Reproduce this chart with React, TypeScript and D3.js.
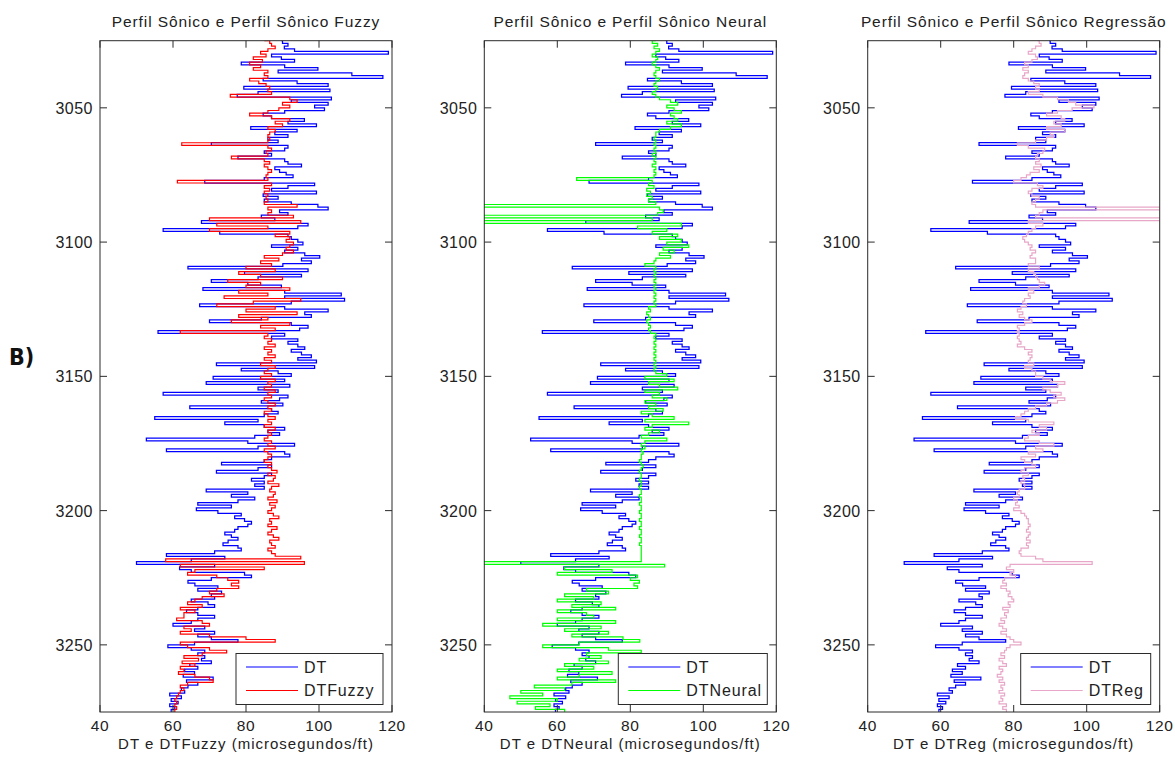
import React from "react";
import * as d3 from "d3";

const DEPTH_START = 3025;
const X_TICKS = [40, 60, 80, 100, 120];
const Y_TICKS = [3050, 3100, 3150, 3200, 3250];
const X_DOMAIN = [40, 120];
const Y_DOMAIN = [3025, 3275];

const DT = [
  89.7, 90, 91.5, 90.5, 93.3, 119, 87, 89.7, 93.3, 78.7,
  90.6, 99.7, 88.8, 109, 117.5, 84.7, 94, 102.5, 79.4, 103,
  83.3, 77.6, 103.4, 92.4, 102.5, 98.8, 101.5, 90.6, 84.7, 87,
  96, 91.5, 99.3, 81.3, 94, 87.9, 91.5, 86, 88.8, 70.5,
  91.5, 90.6, 85, 87, 77.8, 90.6, 91.5, 95.2, 87.9, 89.2,
  91, 92.9, 85, 68.7, 98.8, 91.5, 87, 99.3, 84.7, 88.8,
  85, 92.4, 99.7, 102.5, 89.2, 91.5, 84.2, 87.9, 67.8, 97,
  94.2, 57.3, 72.8, 91.5, 92.4, 94.2, 95.6, 87, 94.2, 90.6,
  96.1, 100.2, 95.2, 97.9, 90.1, 64.1, 97, 79.6, 95.2, 83.3,
  70.5, 80.5, 89.7, 68.2, 90.6, 106.1, 90.6, 107, 92.4, 67.3,
  90.6, 102.5, 96.1, 97.9, 84.2, 70, 92.4, 97, 94.7, 55.9,
  90.6, 87, 94.2, 91.5, 94.2, 96.1, 92.4, 95.2, 97.9, 94.2,
  99.3, 71.9, 98.8, 78.7, 88.8, 92.4, 71, 90.6, 69.1, 92,
  83.3, 88.8, 57.3, 91.5, 89.2, 84.2, 90.1, 64.6, 87, 88.8,
  85, 55, 83.3, 74.2, 85, 90.6, 86, 89.2, 82.4, 52.7,
  80.5, 93.3, 83.3, 58.2, 90.6, 92, 87, 85, 73.3, 87,
  83.3, 71.9, 87, 85, 81.5, 85, 82.4, 85, 69.1, 80.5,
  76, 82.4, 77.8, 66.8, 76, 66.4, 72.3, 78.7, 76.9, 79.6,
  81.5, 80.5, 77.8, 76.9, 74.2, 76, 77.8, 75.1, 73.7, 77.8,
  78.7, 71.4, 58.2, 74.2, 65, 50, 71.4, 61.8, 65, 79.6,
  81.5, 70.5, 64.1, 66, 72.3, 66.8, 73.3, 70.5, 71.4, 65,
  69.6, 71.4, 66.8, 63.7, 66.8, 71.4, 66.8, 65, 60, 68.7,
  65.9, 71.4, 66.8, 70.5, 77.8, 65.9, 58.6, 65, 68.7, 66.8,
  68.7, 67.8, 70.5, 64.6, 66.8, 63.2, 65.9, 62.8, 71, 63.7,
  66.8, 64.1, 62.3, 63.2, 59.1, 62.3, 59.5, 61.4, 59.1, 60.5,
  59.5,
];

const DT_FUZZY = [
  85, 86.5, 87, 88, 86, 84, 85.5, 82, 84.5, 81,
  84, 82, 86, 85, 86, 81, 83.5, 85.5, 86.5, 86,
  87, 75.7, 92, 94, 90, 92, 89, 86, 81, 87,
  92, 88, 90, 86, 88, 86.5, 86, 86.5, 86, 62.4,
  86, 87, 85.5, 86, 76, 85, 86.5, 85, 86, 87,
  86, 85.5, 86, 61.2, 87, 85, 86.5, 85, 86, 85.5,
  86, 85, 94, 86, 87, 86, 93, 70, 95, 72,
  86, 70, 92, 88, 92, 91, 93, 92, 91, 93,
  90, 85, 89, 84, 87, 80, 88, 78, 84, 90,
  75, 84, 80, 92, 78, 86, 74, 95, 82, 72,
  88, 80, 94, 78, 86, 76, 92, 84, 88, 62,
  86, 85, 87, 86, 88, 85, 87, 86, 88, 85,
  87, 84, 88, 86, 85, 87, 84, 88, 86, 87,
  85, 88, 86, 87, 85, 86, 88, 86, 87, 85,
  86, 88, 86, 87, 85, 88, 86, 87, 86, 85,
  87, 86, 88, 85, 86, 87, 86, 85, 87, 86,
  87, 88.5, 86, 88, 87.5, 86, 89, 87, 86.5, 88,
  87.5, 86, 88.5, 86.5, 88, 87, 86, 87.5, 89, 86.5,
  87, 86, 88.5, 87, 86, 87.5, 89, 86.5, 87, 88,
  86, 87, 88, 95, 58, 96, 62, 85, 66, 64,
  72, 75, 78, 76, 78, 72, 70, 74, 68, 66,
  64, 68, 62, 66, 63, 63, 61, 68, 70, 63,
  65, 62, 70, 80, 88, 62, 64, 70, 74.7, 68,
  63, 67, 62.5, 66, 62, 63, 61.5, 66, 70, 71,
  64, 62, 63, 62, 61.5, 61, 60.5, 61, 60.5, 61,
  60.5,
];

const DT_NEURAL = [
  87, 86, 87.5, 86.5, 88, 87, 86, 87.5, 87, 86,
  87, 88, 87, 86.5, 87, 88, 87, 86.5, 87.5, 87,
  86, 87, 88, 91, 93, 90, 92, 94, 91, 92,
  93, 90, 94, 91, 88, 87, 87, 86.5, 87, 86.5,
  87, 86.5, 87, 86, 87, 86.5, 87, 86, 87, 86.5,
  87, 86.5, 65.3, 86, 85, 86.5, 84.5, 85.5, 84.5, 86,
  85, 87, 30, 88, 89, 87.5, 30, 86, 30, 94,
  82, 90, 86, 93, 88, 94, 90, 96, 89, 92,
  88, 91, 87, 86.5, 84, 87, 86.5, 87, 86.5, 87,
  86.5, 87, 86.5, 87, 86.5, 87, 86.5, 87, 86.5, 87,
  85, 85.5, 84.5, 85, 85.5, 84.5, 85, 85.5, 85, 85.5,
  87, 86.5, 87, 86.5, 87, 86.5, 87, 86.5, 87, 86.5,
  87, 86.5, 87, 86.5, 87, 90, 84, 92, 85, 88,
  93, 84, 88, 86, 90, 84, 87, 85, 89, 83,
  86, 92, 84, 96, 86, 84, 88, 85, 83, 90,
  84, 83, 84, 83, 83.5, 83, 83, 82.5, 83, 83.5,
  83, 82.5, 83, 83, 82.5, 83, 83, 82.5, 83, 83,
  82.5, 83, 83, 82.5, 83, 83, 82.5, 83, 83, 82.5,
  83, 83, 82.5, 83, 83, 82.5, 83, 83, 82.5, 83,
  83, 83, 83, 83, 83, 30, 89.4, 62, 75, 60,
  82, 80, 82.5, 81, 82, 68, 74, 62, 70, 60,
  72, 64, 76, 60, 68, 70, 60, 76, 56, 72,
  62, 74, 64, 78, 82.6, 66, 56, 74, 83, 68,
  72, 66, 74, 62, 70, 60, 75, 66, 60, 76,
  64, 53.7, 62, 50, 56, 47, 60, 49, 58, 54,
  62,
];

const DT_REG = [
  86.5, 87, 87.5, 86, 85, 84, 86, 86.5, 85, 83,
  84, 82.5, 84, 83, 82.5, 84, 85.5, 87, 86, 87,
  84, 88, 92, 95, 97, 102, 96, 92, 89, 93,
  94, 91, 93, 89, 94, 90, 91, 89, 86, 81,
  84, 88.5, 88, 86.5, 86, 87, 86, 87.5, 85.5, 87,
  84.5, 83.5, 82, 80, 86.5, 88, 85, 84, 85, 87,
  86, 85, 86, 125, 88, 87, 86, 125, 84, 88,
  86, 85, 84, 83.5, 82.5, 83, 84, 85, 84.5, 86,
  85, 84.5, 86, 86, 84, 87, 84, 85.5, 86, 86.5,
  87, 88.5, 87, 84, 85.5, 84, 84.5, 83, 82.5, 83.5,
  82, 81, 82.5, 81.5, 83, 85, 83, 81, 81.5, 81,
  81.5, 81, 81.5, 82, 81, 83, 85, 84, 85, 84.5,
  84, 85.5, 83, 85, 86, 86, 88, 90, 94, 92,
  88, 90, 93, 91, 94, 92, 89, 86, 84, 83,
  82, 80.5, 84, 91, 87, 89, 85, 87, 84, 83,
  87, 91, 86, 88, 84, 86, 82, 83, 85, 86,
  83, 82, 84, 82.5, 83, 82, 83, 83, 81.5, 81,
  81.5, 80, 81, 80.5, 81.5, 80, 82, 83, 83.5, 84,
  84, 84.5, 84, 83.5, 84.5, 84, 83.5, 84.5, 83.5, 84,
  82, 81.5, 82, 86, 88, 101.5, 79, 78, 80, 79,
  80.5, 77.5, 77, 78, 76.5, 78, 79, 78.5, 79.5, 80,
  78.5, 79, 77, 78.5, 77.5, 78, 76.5, 77.5, 76, 77,
  78, 76.5, 78, 79, 80, 82, 79, 78, 77.5, 76.5,
  77.5, 76, 77, 78, 76, 77, 76.5, 75.5, 77, 76,
  77.5, 76.5, 77, 76, 77.5, 76.5, 77, 76, 78, 77,
  78,
];

const DEPTHS = DT.map((_, i) => DEPTH_START + i);

const PANELS = [
  { title: "Perfil Sônico e Perfil Sônico Fuzzy", xLabel: "DT e DTFuzzy (microsegundos/ft)", name: "DTFuzzy", values: DT_FUZZY, color: "#ff0000", legendW: 147 },
  { title: "Perfil Sônico e Perfil Sônico Neural", xLabel: "DT e DTNeural (microsegundos/ft)", name: "DTNeural", values: DT_NEURAL, color: "#00ff00", legendW: 149 },
  { title: "Perfil Sônico e Perfil Sônico Regressão", xLabel: "DT e DTReg (microsegundos/ft)", name: "DTReg", values: DT_REG, color: "#e8a6c8", legendW: 130 },
];

const PANEL_LEFTS = [100, 484.3, 867.7];
const PANEL_W = 292;
const TOP = 40.7;
const BOTTOM = 712;
const FONT = "'Liberation Sans', Arial, Helvetica, sans-serif";
const AXIS_COLOR = "#2b2b2b";
const TEXT_COLOR = "#222";

function Panel({ idx }: { idx: number }) {
  const p = PANELS[idx];
  const left = PANEL_LEFTS[idx];
  const right = left + PANEL_W;
  const x = d3.scaleLinear().domain(X_DOMAIN).range([left, right]);
  const y = d3.scaleLinear().domain(Y_DOMAIN).range([TOP, BOTTOM]);
  const line = d3
    .line<number>()
    .x((d) => x(d))
    .y((_, i) => y(DEPTHS[i]))
    .curve(d3.curveStepAfter);
  const clipId = `clip${idx}`;
  const tick = 7;
  const lgRight = left + 283;
  const lgLeft = lgRight - p.legendW;
  const lgTop = 653.5;
  const lgH = 51;
  const txt = { fontFamily: FONT, fill: TEXT_COLOR, fontSize: 15.5, letterSpacing: 0.7 } as const;
  return (
    <g>
      <defs>
        <clipPath id={clipId}>
          <rect x={left} y={TOP} width={PANEL_W} height={BOTTOM - TOP} />
        </clipPath>
      </defs>
      <rect x={left} y={TOP} width={PANEL_W} height={BOTTOM - TOP} fill="#fff" />
      <g clipPath={`url(#${clipId})`}>
        <path d={line(DT) || ""} fill="none" stroke="#0000ff" strokeWidth={1.25} />
        <path d={line(p.values) || ""} fill="none" stroke={p.color} strokeWidth={1.2} />
      </g>
      {X_TICKS.map((t) => (
        <g key={"x" + t}>
          <line x1={x(t)} x2={x(t)} y1={BOTTOM} y2={BOTTOM - tick} stroke={AXIS_COLOR} />
          <line x1={x(t)} x2={x(t)} y1={TOP} y2={TOP + tick} stroke={AXIS_COLOR} />
          <text x={x(t)} y={730.5} textAnchor="middle" {...txt} fontSize={15.5} letterSpacing={0.6}>
            {t}
          </text>
        </g>
      ))}
      {Y_TICKS.map((t) => (
        <g key={"y" + t}>
          <line x1={left} x2={left + tick} y1={y(t)} y2={y(t)} stroke={AXIS_COLOR} />
          <line x1={right} x2={right - tick} y1={y(t)} y2={y(t)} stroke={AXIS_COLOR} />
          <text x={left - 7} y={y(t) + 6} textAnchor="end" {...txt} fontSize={16} letterSpacing={0.5}>
            {t}
          </text>
        </g>
      ))}
      <rect x={left} y={TOP} width={PANEL_W} height={BOTTOM - TOP} fill="none" stroke={AXIS_COLOR} strokeWidth={1} />
      <text x={(left + right) / 2} y={27} textAnchor="middle" {...txt} letterSpacing={0.9}>
        {p.title}
      </text>
      <text x={(left + right) / 2} y={748.5} textAnchor="middle" {...txt} fontSize={15} letterSpacing={1}>
        {p.xLabel}
      </text>
      <g>
        <rect x={lgLeft} y={lgTop} width={p.legendW} height={lgH} fill="#fff" stroke={AXIS_COLOR} strokeWidth={1} />
        <line x1={lgLeft + 10} x2={lgLeft + 62} y1={lgTop + 13.5} y2={lgTop + 13.5} stroke="#0000ff" strokeWidth={1.2} />
        <text x={lgLeft + 68} y={lgTop + 19} {...txt} fontSize={16} letterSpacing={0.9}>DT</text>
        <line x1={lgLeft + 10} x2={lgLeft + 62} y1={lgTop + 37} y2={lgTop + 37} stroke={p.color} strokeWidth={1.2} />
        <text x={lgLeft + 68} y={lgTop + 42.5} {...txt} fontSize={16} letterSpacing={0.9}>{p.name}</text>
      </g>
    </g>
  );
}

export default function App() {
  return (
    <svg width={1175} height={758} style={{ display: "block", position: "absolute", left: 0, top: 0 }}>
      <rect x={0} y={0} width={1175} height={758} fill="#fff" />
      {PANELS.map((_, i) => (
        <Panel key={i} idx={i} />
      ))}
      <text x={9} y={365} fontSize={23} fontWeight="bold" fill="#111" fontFamily="'DejaVu Sans Condensed', 'DejaVu Sans', sans-serif">
        B)
      </text>
    </svg>
  );
}
